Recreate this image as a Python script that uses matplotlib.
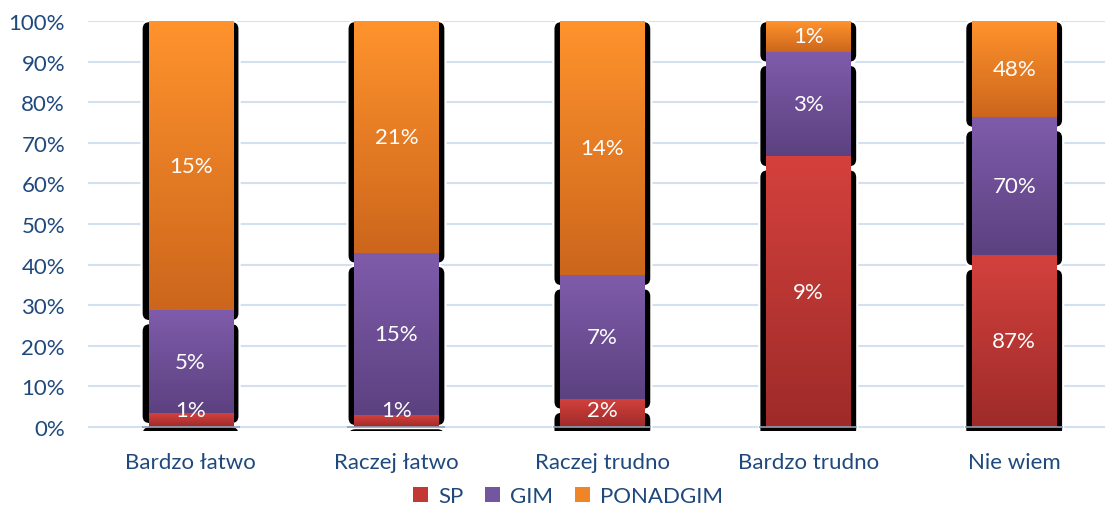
import numpy as np
import matplotlib
matplotlib.use("Agg")
import matplotlib.pyplot as plt
from matplotlib.patches import FancyBboxPatch, Patch
from matplotlib.colors import LinearSegmentedColormap

plt.rcParams['font.family'] = ['Lato', 'DejaVu Sans']

categories = ["Bardzo łatwo", "Raczej łatwo", "Raczej trudno", "Bardzo trudno", "Nie wiem"]
series_names = ["SP", "GIM", "PONADGIM"]
sp = [0.7, 1.1, 1.6, 8.8, 86.6]
gim = [5.2, 15.0, 7.0, 3.4, 70.0]
ponadgim = [14.6, 21.4, 14.4, 1.0, 48.4]
yticks = [0, 10, 20, 30, 40, 50, 60, 70, 80, 90, 100]

# (top colour, bottom colour) of each series gradient
gradients = [("#D4413D", "#9E2B29"), ("#7F5CAB", "#5C4180"), ("#FF932D", "#CC661C")]
legend_colors = ["#C33835", "#7256A0", "#F08527"]
text_color = "#1F497D"
grid_color = "#D3E0F0"
fs = 16

W, H = 1105, 510
fig = plt.figure(figsize=(W / 100, H / 100), dpi=100)
ax_left, ax_right, ax_top, ax_bottom = 88, 1105, 22, 432
ax = fig.add_axes([ax_left / W, (H - ax_bottom) / H,
                   (ax_right - ax_left) / W, (ax_bottom - ax_top) / H])

xlo, xhi = -0.498, 4.441
ylo, yhi = -0.985, 100
ax.set_xlim(xlo, xhi)
ax.set_ylim(ylo, yhi)
ppx = (ax_right - ax_left) / (xhi - xlo)   # pixels per x unit
ppy = (ax_bottom - ax_top) / (yhi - ylo)   # pixels per y unit

bar_w = 0.408
side = 7 / ppx
drop_bottom = 11 / ppy
drop_top = 13 / ppy
radius_px = 8

data = np.array([sp, gim, ponadgim], dtype=float)
totals = data.sum(axis=0)
shares = data / totals * 100

x = np.arange(len(categories))
for i in x:
    bottom = 0.0
    for s in range(len(series_names)):
        h = shares[s, i]
        top = bottom + h
        is_top = s == len(series_names) - 1
        # black rounded shadow behind the segment
        sh_bot = bottom - drop_bottom
        sh_top = top if is_top else top - drop_top
        rx = radius_px / ppx
        shadow = FancyBboxPatch((i - bar_w / 2 - side, sh_bot), bar_w + 2 * side, sh_top - sh_bot,
                                boxstyle=f"round,pad=0,rounding_size={rx}",
                                mutation_aspect=ppx / ppy,
                                facecolor="black", edgecolor="white", linewidth=1.6, zorder=2)
        ax.add_patch(shadow)
        # gradient fill of the segment
        cmap = LinearSegmentedColormap.from_list("g", [gradients[s][1], gradients[s][0]])
        grad = np.linspace(0, 1, 256).reshape(-1, 1)
        ax.imshow(grad, extent=[i - bar_w / 2, i + bar_w / 2, bottom, top], origin="lower",
                  cmap=cmap, aspect="auto", interpolation="bilinear", zorder=3)
        # value label
        label_y = max(bottom + h / 2, 4.3)
        ax.text(i, label_y, f"{data[s, i]:.0f}%", ha="center", va="center",
                color="white", fontsize=fs, zorder=5)
        bottom = top
    # thin baseline across the bar foot
    ax.plot([i - bar_w / 2 - side, i + bar_w / 2 + side], [0, 0], color="#8E9FB6",
            lw=1.2, zorder=4, solid_capstyle="butt")

ax.set_xlim(xlo, xhi)
ax.set_ylim(ylo, yhi)

for yv in yticks:
    ax.axhline(yv, color=grid_color, lw=1.5, zorder=1)

ax.set_yticks(yticks)
ax.set_yticklabels([f"{v}%" for v in yticks], color=text_color, fontsize=fs)
ax.set_xticks(x)
ax.set_xticklabels(categories, color=text_color, fontsize=fs)
ax.tick_params(axis="y", length=0, pad=16.5)
ax.tick_params(axis="x", length=0, pad=15)
for sp_ in ax.spines.values():
    sp_.set_visible(False)

handles = [Patch(facecolor=c, edgecolor="none") for c in legend_colors]
fig.legend(handles, series_names, loc="center", bbox_to_anchor=(568 / W, 1 - 497 / H),
           ncol=3, frameon=False, fontsize=fs, labelcolor=text_color,
           handlelength=0.65, handleheight=0.65, handletextpad=0.45, columnspacing=1.0)

fig.savefig("out.png", dpi=100)
